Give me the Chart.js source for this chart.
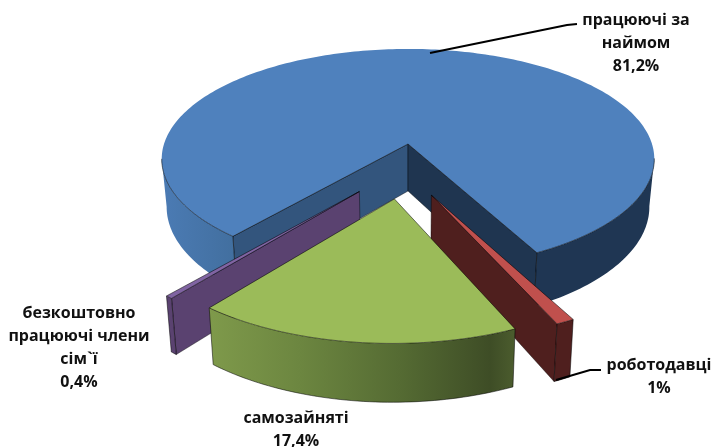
<!DOCTYPE html>
<html>
<head>
<meta charset="utf-8">
<style>html,body{margin:0;padding:0;background:#fff}canvas{display:block}</style>
<script src="https://cdn.jsdelivr.net/npm/chart.js"></script>
</head>
<body>
<canvas id="c" width="713" height="447"></canvas>
<script>
// data
const categories = ['працюючі за наймом', 'роботодавці', 'самозайняті', 'безкоштовно працюючі члени сім`ї'];
const shares = [81.2, 1, 17.4, 0.4];
const valueLabels = ['81,2%', '1%', '17,4%', '0,4%'];

const topColors = ['#4f81bd', '#c0504d', '#9bbb59', '#8064a2'];

// 3D look: camera tilt applied to the arcs Chart.js computed
const view = { cx: 408, cy: 144, rx: 244, ry: 108, k: 0.136, h: 47, taper: 0.98 };
// exploded slices, shift in pie radii
const shifts = [[0, 0], [0.09, 0.445], [-0.052, 0.476], [-0.188, 0.415]];
const cutFaces = [
  { start: '#33557d', end: '#1f3550' },
  { end: '#4f1f1e' },
  {},
  { start: '#5a4270' }
];
const wallStops = [
  [[162, '#4b7bb4'], [235, '#426f9f'], [238, '#1f3653'], [660, '#1f3653']],
  [[430, '#4f1f1e'], [580, '#4f1f1e']],
  [[207, '#7f9a4b'], [300, '#6c8640'], [400, '#556b33'], [490, '#3e4d26'], [516, '#4c5d2e']],
  [[160, '#5a4270'], [180, '#5a4270']]
];
const drawOrder = [0, 3, 1, 2];

const textBlocks = [
  { lines: ['працюючі за', 'наймом', valueLabels[0]], x: 636, y: 20 },
  { lines: ['роботодавці', valueLabels[1]], x: 659, y: 365 },
  { lines: ['самозайняті', valueLabels[2]], x: 296, y: 418 },
  { lines: ['безкоштовно', 'працюючі члени', 'сім`ї', valueLabels[3]], x: 79, y: 313 }
];
const leaders = [
  [[430, 53], [567, 25], [577, 24]],
  [[556, 380], [590, 370], [601, 370]]
];

function project(u, v) {
  const s = 1 / (1 - view.k * v);
  return { x: view.cx + view.rx * u * s, y: view.cy + view.ry * v * s, s };
}
function lower(p) {
  return { x: view.cx + (p.x - view.cx) * view.taper, y: p.y + view.h * p.s };
}
function trace(ctx, pts) {
  ctx.beginPath();
  pts.forEach((p, i) => i ? ctx.lineTo(p.x, p.y) : ctx.moveTo(p.x, p.y));
}
function poly(ctx, pts) {
  trace(ctx, pts);
  ctx.closePath();
}
// runs of the rim whose wall faces the viewer (rim runs right to left there)
function frontRuns(rim) {
  const runs = [];
  let run = null;
  for (let n = 0; n < rim.length - 1; n++) {
    if (rim[n + 1].x < rim[n].x) {
      if (!run) { run = [rim[n]]; runs.push(run); }
      run.push(rim[n + 1]);
    } else run = null;
  }
  return runs;
}

function drawSlice(ctx, arc, i) {
  const { startAngle, endAngle } = arc.getProps(['startAngle', 'endAngle'], true);
  const [du, dv] = shifts[i];
  const steps = Math.max(4, Math.ceil((endAngle - startAngle) / 0.02));
  const rim = [];
  for (let n = 0; n <= steps; n++) {
    const a = startAngle + (endAngle - startAngle) * n / steps;
    rim.push(project(du + Math.cos(a), dv + Math.sin(a)));
  }
  const last = rim[rim.length - 1];
  const apex = project(du, dv);
  const edge = 'rgba(0,0,0,.65)';

  // cut faces
  const faces = cutFaces[i];
  [['start', rim[0]], ['end', last]].forEach(([key, p]) => {
    if (!faces[key]) return;
    poly(ctx, [apex, p, lower(p), lower(apex)]);
    ctx.fillStyle = faces[key];
    ctx.fill();
    ctx.strokeStyle = 'rgba(0,0,0,.5)';
    ctx.lineWidth = 0.8;
    ctx.stroke();
  });

  // outer wall
  const stops = wallStops[i];
  const x0 = stops[0][0], x1 = stops[stops.length - 1][0];
  const grad = ctx.createLinearGradient(x0, 0, x1, 0);
  stops.forEach(([x, c]) => grad.addColorStop((x - x0) / (x1 - x0), c));
  const runs = frontRuns(rim);
  runs.forEach(run => {
    poly(ctx, run.concat(run.map(lower).reverse()));
    ctx.fillStyle = grad;
    ctx.fill();
    if (i > 0) { // the big slice has no line along its foot
      trace(ctx, run.map(lower));
      ctx.strokeStyle = edge;
      ctx.lineWidth = 0.8;
      ctx.stroke();
    }
  });
  // wall end lines
  ctx.strokeStyle = edge;
  ctx.lineWidth = 0.8;
  [rim[0], last].forEach(p => {
    trace(ctx, [p, lower(p)]);
    ctx.stroke();
  });

  // top, with lines on the near edges only
  poly(ctx, [apex].concat(rim));
  ctx.fillStyle = topColors[i];
  ctx.fill();
  ctx.strokeStyle = edge;
  ctx.lineWidth = 0.8;
  runs.forEach(run => { trace(ctx, run); ctx.stroke(); });
  trace(ctx, [rim[0], apex, last]);
  ctx.stroke();
}

const pie3d = {
  id: 'pie3d',
  beforeDatasetsDraw(chart) {
    const ctx = chart.ctx;
    const arcs = chart.getDatasetMeta(0).data;
    ctx.save();
    ctx.lineJoin = 'round';
    drawOrder.forEach(i => drawSlice(ctx, arcs[i], i));
    ctx.restore();
    return false;
  },
  afterDraw(chart) {
    const ctx = chart.ctx;
    ctx.save();
    ctx.strokeStyle = '#000';
    ctx.lineWidth = 2;
    leaders.forEach(l => {
      ctx.beginPath();
      l.forEach(([x, y], n) => n ? ctx.lineTo(x, y) : ctx.moveTo(x, y));
      ctx.stroke();
    });
    ctx.fillStyle = '#111';
    ctx.font = 'bold 16px "Open Sans", sans-serif';
    ctx.textAlign = 'center';
    ctx.textBaseline = 'middle';
    textBlocks.forEach(b => b.lines.forEach((t, n) => ctx.fillText(t, b.x, b.y + n * 23)));
    ctx.restore();
  }
};

new Chart(document.getElementById('c'), {
  type: 'pie',
  data: { labels: categories, datasets: [{ data: shares, backgroundColor: topColors, borderWidth: 0 }] },
  options: {
    responsive: false,
    animation: false,
    rotation: 220,
    plugins: { legend: { display: false }, tooltip: { enabled: false } }
  },
  plugins: [pie3d]
});
</script>
</body>
</html>
